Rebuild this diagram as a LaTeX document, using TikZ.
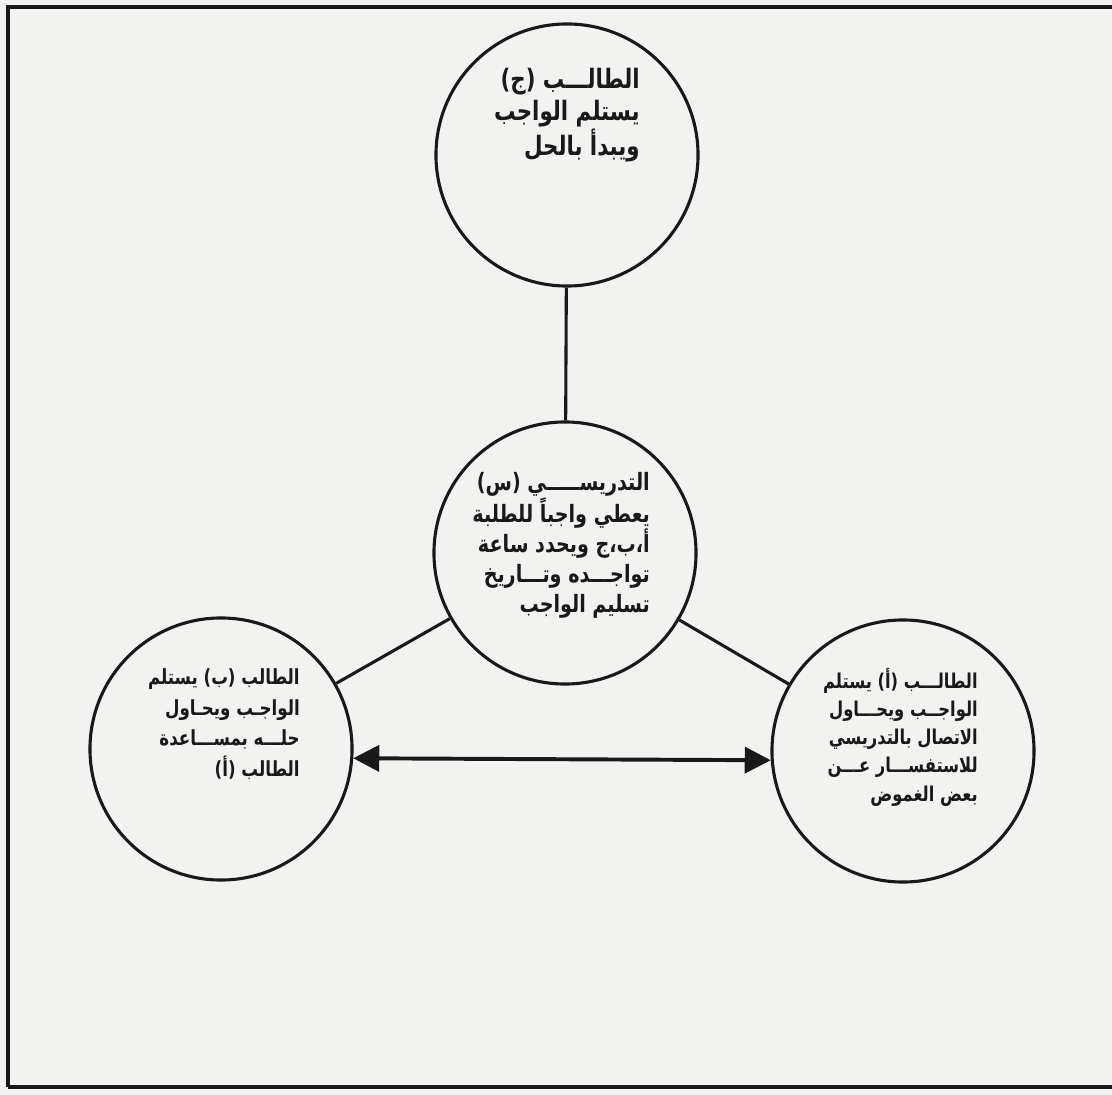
\documentclass[tikz,border=0pt]{standalone}
\usepackage{fontspec}
\usepackage{tikz}
\usetikzlibrary{arrows.meta}
\TeXXeTstate=1
\newfontfamily\arabicfont[Script=Arabic,FakeStretch=0.8]{DejaVu Sans}
\definecolor{paper}{RGB}{242, 242, 240}
\definecolor{ink}{RGB}{25, 25, 25}
\tikzstyle{bigc}=[circle,draw=ink,line width=2.2pt,inner sep=0pt,
  minimum size=6.55cm]
\tikzstyle{txt}=[align=right,anchor=north east,inner sep=0pt,text=ink,
  font=\arabicfont\bfseries\fontsize{15.5}{20.5}\selectfont]
\tikzstyle{none}=[]

\begin{document}
\begin{tikzpicture}[x=0.025cm,y=-0.025cm]
            \fill [paper] (0, 0) rectangle (1112, 1095);
            \useasboundingbox (0, 0) rectangle (1112, 1095);
            \draw [ink,line width=3pt] (1112, 7) -- (8, 7) -- (8, 1087);
            \draw [ink,line width=3.5pt] (8, 1087) -- (1112, 1087);
            \node [style=bigc] (0) at (567, 155) {};
            \node [style=bigc] (1) at (565, 553) {};
            \node [style=bigc] (2) at (221, 749) {};
            \node [style=bigc] (3) at (903, 751) {};
            \node [style=txt,font=\arabicfont\bfseries\fontsize{19}{23}\selectfont] (4) at (640, 68) {\beginR الطالـــب (ج)\endR\\
              \beginR يستلم الواجب\endR\\
              \beginR ويبدأ بالحل\endR};
            \node [style=txt,font=\arabicfont\bfseries\fontsize{17}{21.3}\selectfont] (5) at (650, 472) {\beginR التدريســـــي (س)\endR\\
              \beginR يعطي واجباً للطلبة\endR\\
              \beginR أ،ب،ج ويحدد ساعة\endR\\
              \beginR تواجـــده وتـــاريخ\endR\\
              \beginR تسليم الواجب\endR};
            \node [style=txt,font=\arabicfont\bfseries\fontsize{14.8}{22}\selectfont] (6) at (300, 668) {\beginR الطالب (ب) يستلم\endR\\
              \beginR الواجـب ويحـاول\endR\\
              \beginR حلـــه بمســـاعدة\endR\\
              \beginR الطالب (أ)\endR};
            \node [style=txt,font=\arabicfont\bfseries\fontsize{14.5}{20}\selectfont] (7) at (978, 668) {\beginR الطالـــب (أ) يستلم\endR\\
              \beginR الواجــب ويحـــاول\endR\\
              \beginR الاتصال بالتدريسي\endR\\
              \beginR للاستفســـار عـــن\endR\\
              \beginR بعض الغموض\endR};
            \draw [ink,line width=2.2pt] (0) to (1);
            \draw [ink,line width=2.2pt] (1) to (2);
            \draw [ink,line width=2.2pt] (1) to (3);
            \draw [ink,line width=2.8pt,{Triangle[length=0.65cm,width=0.65cm]}-{Triangle[length=0.65cm,width=0.65cm]}] (2.-4) to (3.184);
    \end{tikzpicture}
\end{document}
